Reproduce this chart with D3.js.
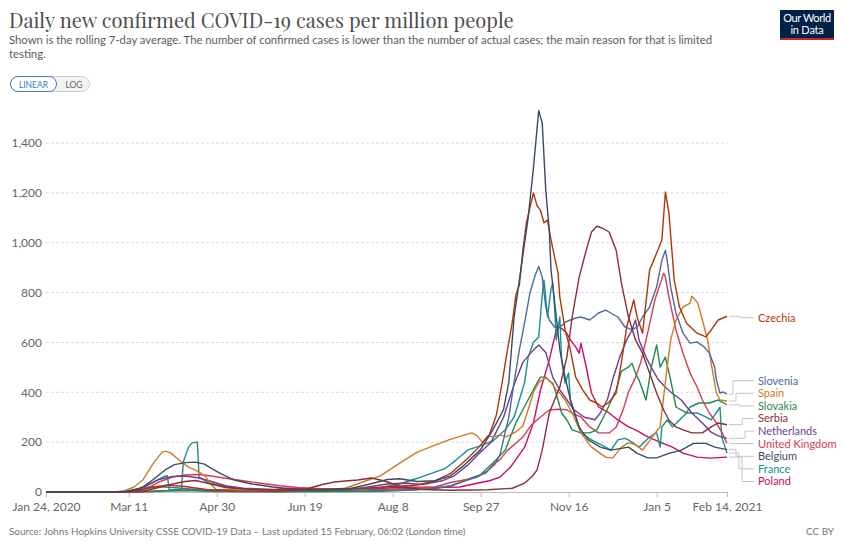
<!DOCTYPE html>
<html><head><meta charset="utf-8">
<script src="https://cdn.jsdelivr.net/npm/d3@7"></script>
<style>
body{margin:0;background:#fff;}
svg text{font-family:Lato,"Open Sans",sans-serif;}
</style></head><body>
<svg id="chart" width="843" height="544"></svg>
<script>
// ---------- data ----------
const xTickDates = ["2020-01-24","2020-03-11","2020-04-30","2020-06-19","2020-08-08","2020-09-27","2020-11-16","2021-01-05","2021-02-14"];
const xTickLabels = ["Jan 24, 2020","Mar 11","Apr 30","Jun 19","Aug 8","Sep 27","Nov 16","Jan 5","Feb 14, 2021"];
const yTicks = [0,200,400,600,800,1000,1200,1400];
const countries = ["Czechia","Slovenia","Spain","Slovakia","Serbia","Netherlands","United Kingdom","Belgium","France","Poland"];
const colors = ["#B13507","#4C6A9C","#D17A22","#1F8A4C","#883039","#6D3E91","#D73C50","#3A4A62","#15908C","#CF0A66"];

const czechia = [["2020-01-24",0],["2020-03-01",0],["2020-03-12",2],["2020-03-22",15],["2020-04-02",28],["2020-04-12",22],["2020-04-25",9],["2020-05-10",5],["2020-06-05",4],["2020-06-28",12],["2020-07-10",13],["2020-07-25",16],["2020-08-08",22],["2020-08-22",28],["2020-09-01",45],["2020-09-10",75],["2020-09-19",130],["2020-09-26",180],["2020-10-02",230],["2020-10-06",310],["2020-10-09",430],["2020-10-12",560],["2020-10-15",680],["2020-10-17",790],["2020-10-19",830],["2020-10-21",970],["2020-10-23",1080],["2020-10-27",1200],["2020-10-29",1150],["2020-10-31",1130],["2020-11-02",1080],["2020-11-04",1091],["2020-11-06",1011],["2020-11-08",943],["2020-11-10",878],["2020-11-11",782],["2020-11-14",650],["2020-11-17",570],["2020-11-20",461],["2020-11-24",410],["2020-11-28",369],["2020-12-02",357],["2020-12-05",341],["2020-12-09",360],["2020-12-13",397],["2020-12-16",520],["2020-12-19",662],["2020-12-23",770],["2020-12-25",700],["2020-12-28",637],["2021-01-01",890],["2021-01-05",958],["2021-01-08",1011],["2021-01-10",1204],["2021-01-12",1119],["2021-01-15",850],["2021-01-18",742],["2021-01-22",677],["2021-01-28",637],["2021-02-02",622],["2021-02-05",650],["2021-02-09",690],["2021-02-14",705]];
const slovenia = [["2020-01-24",0],["2020-03-04",0],["2020-03-12",5],["2020-03-20",18],["2020-03-27",22],["2020-04-05",18],["2020-04-15",12],["2020-04-25",6],["2020-05-10",2],["2020-06-01",1],["2020-06-20",4],["2020-07-05",9],["2020-07-18",10],["2020-08-01",6],["2020-08-20",10],["2020-09-01",14],["2020-09-10",24],["2020-09-18",45],["2020-09-25",60],["2020-10-01",85],["2020-10-05",110],["2020-10-08",150],["2020-10-13",300],["2020-10-16",440],["2020-10-19",570],["2020-10-22",680],["2020-10-25",798],["2020-10-28",870],["2020-10-30",905],["2020-11-01",862],["2020-11-03",742],["2020-11-05",690],["2020-11-08",662],["2020-11-11",662],["2020-11-14",680],["2020-11-17",690],["2020-11-20",698],["2020-11-23",702],["2020-11-28",690],["2020-12-03",718],["2020-12-07",730],["2020-12-10",718],["2020-12-14",702],["2020-12-18",662],["2020-12-22",650],["2020-12-25",662],["2020-12-28",702],["2021-01-01",742],["2021-01-05",822],["2021-01-08",930],["2021-01-10",970],["2021-01-11",930],["2021-01-13",822],["2021-01-16",718],["2021-01-20",637],["2021-01-24",597],["2021-01-28",602],["2021-02-01",582],["2021-02-04",557],["2021-02-07",501],["2021-02-08",449],["2021-02-10",397],["2021-02-12",401],["2021-02-14",392]];
const spain = [["2020-01-24",0],["2020-03-01",0],["2020-03-08",3],["2020-03-14",20],["2020-03-19",48],["2020-03-25",116],["2020-03-30",160],["2020-04-01",164],["2020-04-04",156],["2020-04-10",120],["2020-04-14",100],["2020-04-18",88],["2020-04-21",76],["2020-04-24",60],["2020-04-26",36],["2020-04-30",8],["2020-05-10",12],["2020-05-20",10],["2020-06-01",5],["2020-06-15",7],["2020-07-01",8],["2020-07-12",15],["2020-07-24",45],["2020-08-01",65],["2020-08-12",116],["2020-08-22",160],["2020-08-31",185],["2020-09-09",209],["2020-09-16",225],["2020-09-22",237],["2020-09-25",225],["2020-09-28",200],["2020-10-01",225],["2020-10-04",221],["2020-10-08",228],["2020-10-12",222],["2020-10-17",241],["2020-10-21",265],["2020-10-24",330],["2020-10-27",400],["2020-10-30",440],["2020-11-03",458],["2020-11-06",440],["2020-11-09",410],["2020-11-11",397],["2020-11-14",369],["2020-11-18",317],["2020-11-23",237],["2020-11-29",180],["2020-12-03",160],["2020-12-07",140],["2020-12-11",136],["2020-12-16",180],["2020-12-20",197],["2020-12-24",190],["2020-12-28",168],["2021-01-01",205],["2021-01-04",235],["2021-01-07",261],["2021-01-09",381],["2021-01-11",501],["2021-01-13",610],["2021-01-16",690],["2021-01-20",742],["2021-01-24",758],["2021-01-25",785],["2021-01-28",762],["2021-01-29",742],["2021-01-31",690],["2021-02-03",610],["2021-02-05",517],["2021-02-08",397],["2021-02-10",369],["2021-02-14",365]];
const slovakia = [["2020-01-24",0],["2020-03-08",0],["2020-03-20",2],["2020-04-01",5],["2020-04-12",6],["2020-05-01",2],["2020-06-01",1],["2020-07-01",2],["2020-08-01",3],["2020-08-20",8],["2020-09-01",15],["2020-09-10",25],["2020-09-20",50],["2020-09-27",70],["2020-10-04",116],["2020-10-11",168],["2020-10-17",277],["2020-10-23",357],["2020-10-29",437],["2020-10-31",461],["2020-11-03",461],["2020-11-05",445],["2020-11-07",437],["2020-11-10",369],["2020-11-12",317],["2020-11-15",289],["2020-11-18",249],["2020-11-23",237],["2020-11-28",237],["2020-12-02",249],["2020-12-07",317],["2020-12-13",409],["2020-12-16",485],["2020-12-20",501],["2020-12-22",517],["2020-12-24",477],["2020-12-26",449],["2020-12-30",369],["2021-01-02",501],["2021-01-05",590],["2021-01-07",501],["2021-01-10",541],["2021-01-13",449],["2021-01-16",341],["2021-01-22",317],["2021-01-24",341],["2021-01-29",357],["2021-02-04",357],["2021-02-09",369],["2021-02-14",350]];
const serbia = [["2020-01-24",0],["2020-03-10",0],["2020-03-20",4],["2020-03-28",18],["2020-04-05",32],["2020-04-12",42],["2020-04-18",46],["2020-04-25",35],["2020-05-05",18],["2020-05-20",10],["2020-06-05",8],["2020-06-20",12],["2020-06-29",30],["2020-07-06",40],["2020-07-12",44],["2020-07-19",48],["2020-07-27",56],["2020-08-02",46],["2020-08-06",38],["2020-08-13",20],["2020-08-25",10],["2020-09-10",7],["2020-10-01",9],["2020-10-15",15],["2020-10-22",36],["2020-10-26",60],["2020-10-29",88],["2020-11-01",168],["2020-11-05",317],["2020-11-11",421],["2020-11-15",541],["2020-11-18",702],["2020-11-22",862],["2020-11-26",970],["2020-11-29",1043],["2020-12-02",1066],["2020-12-05",1059],["2020-12-09",1043],["2020-12-13",970],["2020-12-16",838],["2020-12-20",702],["2020-12-24",610],["2020-12-28",557],["2021-01-01",477],["2021-01-05",397],["2021-01-09",329],["2021-01-12",289],["2021-01-16",261],["2021-01-20",249],["2021-01-25",237],["2021-01-31",237],["2021-02-05",261],["2021-02-09",277],["2021-02-14",270]];
const netherlands = [["2020-01-24",0],["2020-03-05",0],["2020-03-12",3],["2020-03-20",22],["2020-03-28",50],["2020-04-05",62],["2020-04-12",64],["2020-04-20",56],["2020-04-28",40],["2020-05-05",25],["2020-05-15",15],["2020-06-01",10],["2020-06-15",5],["2020-07-01",4],["2020-07-15",8],["2020-07-25",20],["2020-08-05",32],["2020-08-15",36],["2020-08-25",30],["2020-09-05",45],["2020-09-12",65],["2020-09-20",110],["2020-09-27",160],["2020-10-03",200],["2020-10-10",300],["2020-10-16",430],["2020-10-21",520],["2020-10-27",570],["2020-10-30",590],["2020-11-03",560],["2020-11-07",460],["2020-11-11",410],["2020-11-15",370],["2020-11-19",330],["2020-11-25",300],["2020-12-01",290],["2020-12-04",317],["2020-12-08",370],["2020-12-11",450],["2020-12-15",540],["2020-12-19",610],["2020-12-22",650],["2020-12-24",690],["2020-12-26",610],["2020-12-30",540],["2021-01-02",500],["2021-01-06",450],["2021-01-10",420],["2021-01-14",395],["2021-01-19",369],["2021-01-25",317],["2021-01-31",277],["2021-02-05",240],["2021-02-09",225],["2021-02-14",215]];
const unitedKingdom = [["2020-01-24",0],["2020-03-05",0],["2020-03-12",1],["2020-03-20",10],["2020-03-28",40],["2020-04-05",60],["2020-04-12",68],["2020-04-20",70],["2020-04-27",64],["2020-05-05",55],["2020-05-15",45],["2020-05-25",35],["2020-06-05",25],["2020-06-15",18],["2020-07-01",12],["2020-07-15",9],["2020-08-01",10],["2020-08-15",14],["2020-09-01",20],["2020-09-10",38],["2020-09-19",50],["2020-09-30",76],["2020-10-04",110],["2020-10-08",130],["2020-10-12",165],["2020-10-21",221],["2020-10-26",270],["2020-10-31",301],["2020-11-05",329],["2020-11-10",332],["2020-11-15",330],["2020-11-19",312],["2020-11-23",301],["2020-11-28",261],["2020-12-03",237],["2020-12-09",237],["2020-12-13",260],["2020-12-17",330],["2020-12-20",400],["2020-12-24",460],["2020-12-27",520],["2020-12-31",640],["2021-01-04",770],["2021-01-09",878],["2021-01-10",862],["2021-01-12",782],["2021-01-16",650],["2021-01-20",557],["2021-01-24",477],["2021-01-28",421],["2021-01-31",369],["2021-02-04",317],["2021-02-08",277],["2021-02-11",240],["2021-02-14",195]];
const belgium = [["2020-01-24",0],["2020-03-01",0],["2020-03-10",2],["2020-03-18",15],["2020-03-25",50],["2020-04-01",90],["2020-04-06",110],["2020-04-12",118],["2020-04-18",120],["2020-04-23",112],["2020-04-27",95],["2020-05-02",75],["2020-05-10",48],["2020-05-20",32],["2020-06-01",20],["2020-06-15",9],["2020-07-01",8],["2020-07-15",14],["2020-07-25",30],["2020-08-05",50],["2020-08-12",53],["2020-08-22",42],["2020-09-01",45],["2020-09-10",65],["2020-09-18",110],["2020-09-27",170],["2020-10-04",250],["2020-10-10",330],["2020-10-13",440],["2020-10-16",700],["2020-10-20",900],["2020-10-24",1100],["2020-10-27",1300],["2020-10-30",1530],["2020-11-01",1480],["2020-11-03",1211],["2020-11-05",1050],["2020-11-06",890],["2020-11-09",702],["2020-11-11",570],["2020-11-14",460],["2020-11-17",370],["2020-11-22",260],["2020-11-27",210],["2020-12-04",180],["2020-12-10",168],["2020-12-16",175],["2020-12-20",180],["2020-12-25",155],["2020-12-31",137],["2021-01-05",137],["2021-01-12",155],["2021-01-19",168],["2021-01-26",195],["2021-02-02",195],["2021-02-07",180],["2021-02-14",170]];
const france = [["2020-01-24",0],["2020-03-01",0],["2020-03-10",3],["2020-03-18",15],["2020-03-25",40],["2020-03-31",62],["2020-04-02",65],["2020-04-03",8],["2020-04-10",10],["2020-04-11",120],["2020-04-14",180],["2020-04-16",197],["2020-04-19",200],["2020-04-20",60],["2020-04-26",35],["2020-05-05",22],["2020-05-15",12],["2020-06-01",6],["2020-06-20",7],["2020-07-05",8],["2020-07-20",12],["2020-08-01",18],["2020-08-12",32],["2020-08-22",55],["2020-09-01",80],["2020-09-07",95],["2020-09-13",128],["2020-09-20",170],["2020-09-27",185],["2020-10-04",205],["2020-10-11",250],["2020-10-16",300],["2020-10-19",370],["2020-10-22",440],["2020-10-24",541],["2020-10-27",600],["2020-10-30",622],["2020-11-01",790],["2020-11-02",850],["2020-11-04",702],["2020-11-06",815],["2020-11-07",838],["2020-11-08",742],["2020-11-09",610],["2020-11-11",702],["2020-11-12",530],["2020-11-14",437],["2020-11-16",477],["2020-11-17",369],["2020-11-20",301],["2020-11-23",237],["2020-11-29",209],["2020-12-07",180],["2020-12-10",168],["2020-12-14",209],["2020-12-18",215],["2020-12-20",209],["2020-12-26",180],["2021-01-01",221],["2021-01-05",237],["2021-01-07",180],["2021-01-08",261],["2021-01-11",289],["2021-01-14",261],["2021-01-18",289],["2021-01-22",317],["2021-01-28",317],["2021-02-02",301],["2021-02-05",289],["2021-02-09",329],["2021-02-10",341],["2021-02-11",221],["2021-02-14",156]];
const poland = [["2020-01-24",0],["2020-03-08",0],["2020-03-20",1],["2020-04-01",5],["2020-04-15",8],["2020-05-01",8],["2020-05-15",10],["2020-06-01",9],["2020-06-10",15],["2020-07-01",9],["2020-07-15",8],["2020-08-01",14],["2020-08-15",20],["2020-09-01",18],["2020-09-15",20],["2020-09-25",35],["2020-10-02",45],["2020-10-08",60],["2020-10-14",100],["2020-10-18",140],["2020-10-22",180],["2020-10-27",277],["2020-10-31",409],["2020-11-05",530],["2020-11-09",650],["2020-11-11",662],["2020-11-15",637],["2020-11-17",610],["2020-11-20",582],["2020-11-22",557],["2020-11-23",597],["2020-11-26",501],["2020-11-29",397],["2020-12-03",341],["2020-12-09",317],["2020-12-14",289],["2020-12-20",261],["2020-12-24",249],["2020-12-31",221],["2021-01-08",197],["2021-01-14",180],["2021-01-20",156],["2021-01-28",140],["2021-02-04",136],["2021-02-14",140]];

const seriesValues = [czechia,slovenia,spain,slovakia,serbia,netherlands,unitedKingdom,belgium,france,poland];

// ---------- drawing ----------
const parse = d3.timeParse("%Y-%m-%d");
const svg = d3.select("#chart");
const x = d3.scaleTime().domain([parse(xTickDates[0]), parse(xTickDates[xTickDates.length-1])]).range([46, 727]);
const y = d3.scaleLinear().domain([0, 1400]).range([492, 143]);

function fit(sel, w){
  const n = sel.node();
  const cur = n.getComputedTextLength();
  const fs = parseFloat(sel.attr("font-size"));
  if (cur > 0) sel.attr("font-size", (fs * w / cur).toFixed(2));
}

// title
const title = svg.append("text").attr("x", 9).attr("y", 28)
  .attr("font-size", 22).attr("fill", "#4d4d4d")
  .style("font-family", "'Playfair Display','Liberation Serif','DejaVu Serif',serif")
  .text("Daily new confirmed COVID-19 cases per million people");
fit(title, 505);

const sub1 = svg.append("text").attr("x", 9).attr("y", 44).attr("font-size", 12).attr("fill", "#5b5b5b")
  .text("Shown is the rolling 7-day average. The number of confirmed cases is lower than the number of actual cases; the main reason for that is limited");
fit(sub1, 704);
svg.append("text").attr("x", 9).attr("y", 58).attr("font-size", sub1.attr("font-size")).attr("fill", "#5b5b5b").text("testing.");

// logo
svg.append("rect").attr("x", 780).attr("y", 10).attr("width", 54).attr("height", 30).attr("fill", "#002147");
svg.append("rect").attr("x", 780).attr("y", 38).attr("width", 54).attr("height", 2).attr("fill", "#ce261e");
const l1 = svg.append("text").attr("x", 807).attr("y", 22).attr("text-anchor", "middle").attr("font-size", 11).attr("fill", "#fff").attr("letter-spacing", -0.4).text("Our World");
svg.append("text").attr("x", 807).attr("y", 33.5).attr("text-anchor", "middle").attr("font-size", 11).attr("fill", "#fff").attr("letter-spacing", -0.2).text("in Data");

// toggle
svg.append("rect").attr("x", 10.5).attr("y", 76.5).attr("width", 79).attr("height", 15).attr("rx", 7.5).attr("fill", "#f2f2f2").attr("stroke", "#d0d0d0");
svg.append("rect").attr("x", 10.5).attr("y", 76.5).attr("width", 46).attr("height", 15).attr("rx", 7.5).attr("fill", "#fff").attr("stroke", "#3b78c2");
svg.append("text").attr("x", 33.5).attr("y", 87.5).attr("text-anchor", "middle").attr("font-size", 8.5).attr("fill", "#3b78c2").text("LINEAR");
svg.append("text").attr("x", 74).attr("y", 87.5).attr("text-anchor", "middle").attr("font-size", 8.5).attr("fill", "#666").text("LOG");

// grid + y axis
const grid = svg.append("g");
grid.selectAll("line").data(yTicks.filter(d => d > 0)).join("line")
  .attr("x1", 46).attr("x2", 727).attr("y1", d => y(d)).attr("y2", d => y(d))
  .attr("stroke", "#dadada").attr("stroke-dasharray", "3,2");
const yAxis = svg.append("g").attr("transform", "translate(42,0)")
  .call(d3.axisLeft(y).tickValues(yTicks).tickFormat(d3.format(",")).tickSize(0).tickPadding(0));
yAxis.select(".domain").remove();
yAxis.selectAll("text").attr("font-size", 12).attr("fill", "#666").style("font-family", "Lato,sans-serif");
yAxis.selectAll(".tick").filter(d => d === 0).select("text").attr("dy", "0.25em");

// x axis
const xAxis = svg.append("g").attr("transform", "translate(0,492)")
  .call(d3.axisBottom(x).tickValues(xTickDates.map(parse)).tickFormat((d, i) => xTickLabels[i]).tickSize(5).tickPadding(5).tickSizeOuter(0));
xAxis.select(".domain").attr("stroke", "#bbb");
xAxis.selectAll(".tick line").attr("stroke", "#bbb");
xAxis.selectAll("text").attr("font-size", 12).attr("fill", "#666").style("font-family", "Lato,sans-serif");

// lines
const line = d3.line().x(d => x(parse(d[0]))).y(d => y(d[1]));
const order = [9, 8, 6, 5, 3, 2, 1, 4, 0, 7];
svg.append("g").selectAll("path").data(order).join("path")
  .attr("d", i => line(seriesValues[i]))
  .attr("fill", "none").attr("stroke", i => colors[i]).attr("stroke-width", 1.4)
  .attr("stroke-linejoin", "round");

// labels
const items = countries.map((name, i) => {
  const last = seriesValues[i][seriesValues[i].length - 1];
  return {name, color: colors[i], xEnd: x(parse(last[0])), yEnd: y(last[1]), target: y(last[1])};
}).sort((a, b) => a.target - b.target);
const gap = 12.6;
let clusters = items.map(it => ({items: [it], center: it.target}));
const ctop = c => c.center - (c.items.length - 1) * gap / 2;
const cbot = c => c.center + (c.items.length - 1) * gap / 2;
let merged = true;
while (merged) {
  merged = false;
  for (let i = 0; i < clusters.length - 1; i++) {
    if (cbot(clusters[i]) + gap > ctop(clusters[i + 1])) {
      const its = clusters[i].items.concat(clusters[i + 1].items);
      clusters.splice(i, 2, {items: its, center: d3.mean(its, d => d.target)});
      merged = true; break;
    }
  }
}
clusters.forEach(c => c.items.forEach((it, k) => { it.ly = ctop(c) + k * gap + 1.5; it.k = k; it.n = c.items.length; }));
const lab = svg.append("g");
items.forEach(it => {
  const xb = it.n === 1 ? 740 : 733 + (it.k % 5) * 3;
  lab.append("path")
    .attr("d", `M${it.xEnd + 2},${it.yEnd}H${xb}V${it.ly}H754`)
    .attr("fill", "none").attr("stroke", "#c4c4c4").attr("stroke-width", 1);
  lab.append("text").attr("x", 758).attr("y", it.ly).attr("dy", "0.35em")
    .attr("font-size", 11).attr("fill", it.color).text(it.name);
});

// footer
const src = svg.append("text").attr("x", 9).attr("y", 535).attr("font-size", 10).attr("fill", "#777")
  .text("Source: Johns Hopkins University CSSE COVID-19 Data – Last updated 15 February, 06:02 (London time)");
fit(src, 457);
svg.append("text").attr("x", 834).attr("y", 535).attr("text-anchor", "end").attr("font-size", src.attr("font-size")).attr("fill", "#777").text("CC BY");
</script>
</body></html>
